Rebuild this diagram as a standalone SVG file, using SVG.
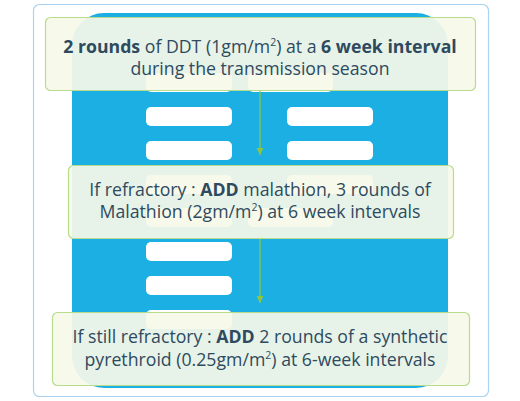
<svg xmlns="http://www.w3.org/2000/svg" width="520" height="401" viewBox="0 0 520 401">
<style>
.frame{fill:#fff;stroke:#a9d3f0;stroke-width:1.2}
.pill{fill:#fff}
.box{fill:#f6f9e8;fill-opacity:0.93;stroke:#b8dc8c;stroke-width:1.2}
.t{font-family:"Open Sans","Noto Sans",sans-serif;font-size:17.7px;fill:#2e4a5e;text-anchor:middle}
.b{font-weight:bold}
.s{font-size:10.5px}
.conn{stroke:#8cc63f;stroke-width:1.3;fill:none}
</style>
<defs>
<marker id="ah" viewBox="0 0 10 10" refX="10" refY="5" markerWidth="7" markerHeight="7" markerUnits="userSpaceOnUse" orient="auto">
<path d="M0,0 L10,5 L0,10 Z" fill="#8cc63f"/>
</marker>
</defs>
<rect class="frame" x="33.5" y="4.5" width="455" height="392" rx="6"/>
<g id="background">
<rect x="72" y="13" width="376" height="375" rx="32" fill="#1bafe4"/>
<rect class="pill" x="146" y="73" width="86" height="19" rx="5"/>
<rect class="pill" x="248" y="73" width="85" height="19" rx="5"/>
<rect class="pill" x="146" y="107" width="86" height="19" rx="5"/>
<rect class="pill" x="287" y="107" width="86" height="19" rx="5"/>
<rect class="pill" x="146" y="141" width="86" height="19" rx="5"/>
<rect class="pill" x="287" y="141" width="86" height="19" rx="5"/>
<rect class="pill" x="146" y="175" width="86" height="19" rx="5"/>
<rect class="pill" x="287" y="175" width="86" height="19" rx="5"/>
<rect class="pill" x="146" y="208" width="86" height="19" rx="5"/>
<rect class="pill" x="248" y="208" width="85" height="19" rx="5"/>
<rect class="pill" x="146" y="242" width="86" height="19" rx="5"/>
<rect class="pill" x="146" y="276" width="86" height="19" rx="5"/>
<rect class="pill" x="146" y="310" width="86" height="19" rx="5"/>
</g>
<g id="connectors">
<line class="conn" x1="260" y1="90" x2="260" y2="155" marker-end="url(#ah)"/>
<line class="conn" x1="260" y1="238" x2="260" y2="303" marker-end="url(#ah)"/>
</g>
<g id="node1">
<rect class="box" x="45.5" y="17.5" width="430" height="73" rx="5"/>
<text class="t" x="260" y="53"><tspan class="b">2 rounds</tspan> of DDT (1gm/m<tspan class="s" dy="-7">2</tspan><tspan dy="7">) at a </tspan><tspan class="b">6 week interval</tspan></text>
<text class="t" x="260" y="75">during the transmission season</text>
</g>
<g id="node2">
<rect class="box" x="68.5" y="165.5" width="385" height="73" rx="5"/>
<text class="t" x="260" y="196">If refractory : <tspan class="b">ADD</tspan> malathion, 3 rounds of</text>
<text class="t" x="260" y="218">Malathion (2gm/m<tspan class="s" dy="-7">2</tspan><tspan dy="7">) at 6 week intervals</tspan></text>
</g>
<g id="node3">
<rect class="box" x="52.5" y="312.5" width="417" height="73" rx="5"/>
<text class="t" x="260" y="343">If still refractory : <tspan class="b">ADD</tspan> 2 rounds of a synthetic</text>
<text class="t" x="260" y="366">pyrethroid (0.25gm/m<tspan class="s" dy="-7">2</tspan><tspan dy="7">) at 6-week intervals</tspan></text>
</g>
</svg>
